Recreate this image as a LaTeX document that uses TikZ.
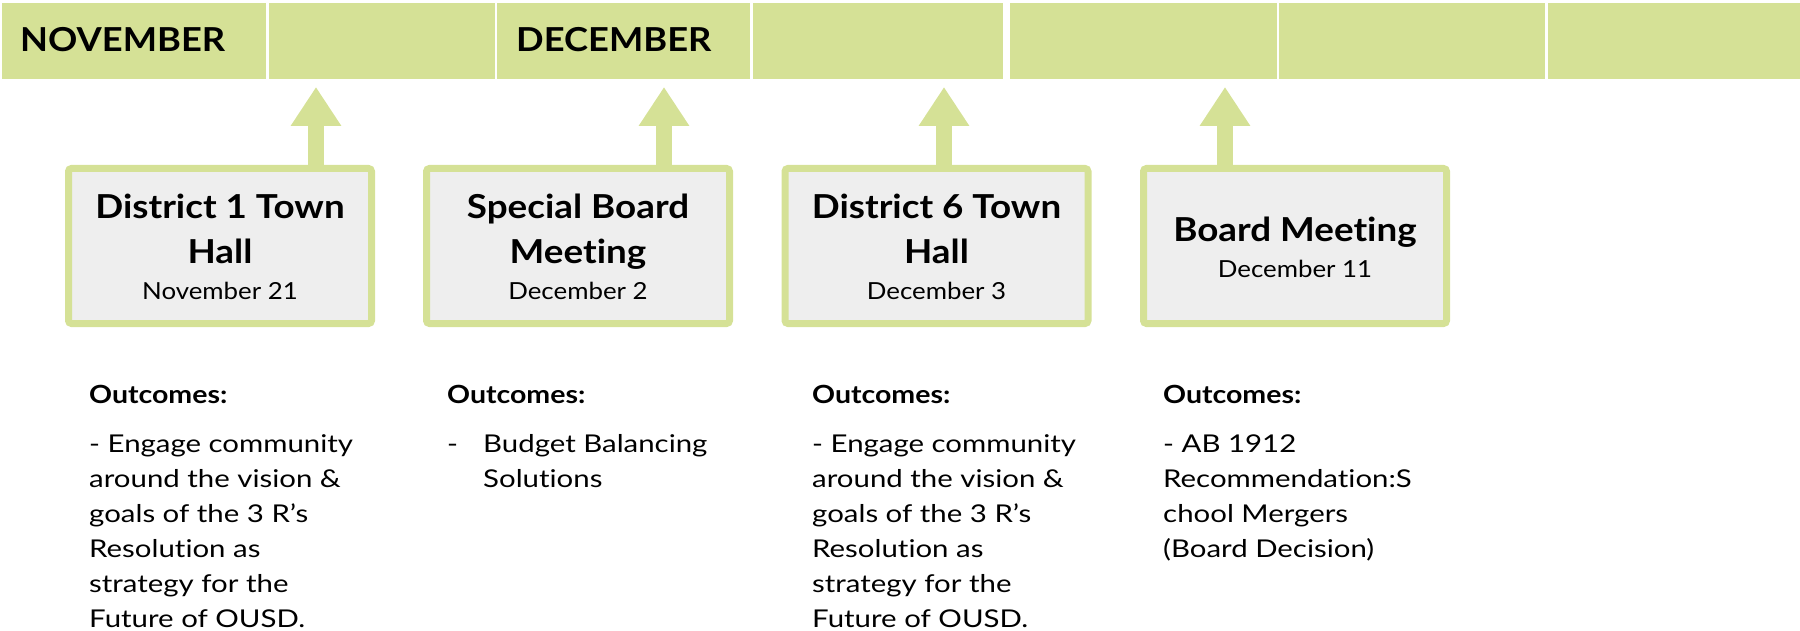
\documentclass[tikz,border=0pt]{standalone}
\usepackage{fontspec}
\setmainfont{Lato}[Ligatures=NoCommon]
\newfontfamily\monthf{Lato}[FakeStretch=1.1,Ligatures=NoCommon]
\newfontfamily\ttlf{Lato}[FakeStretch=1.115,Ligatures=NoCommon]
\newfontfamily\dtf{Lato}[FakeStretch=1.1,Ligatures=NoCommon]
\newfontfamily\outf{Lato}[FakeStretch=1.14,Ligatures=NoCommon]
\newfontfamily\bodyf{Lato}[FakeStretch=1.2,Ligatures=NoCommon]
\usetikzlibrary{arrows.meta}
\definecolor{bar}{HTML}{D5E196}
\definecolor{boxfill}{HTML}{EEEEEE}
\tikzset{
  cell/.style={fill=bar,anchor=north west,inner sep=0pt,outer sep=0pt,minimum height=76pt},
  month/.style={anchor=base west,inner sep=0pt,font=\monthf\fontsize{33}{33}\selectfont\bfseries},
  evbox/.style={draw=bar,fill=boxfill,line width=7pt,rounded corners=3pt,minimum width=303pt,minimum height=155pt,inner sep=0pt},
  ttl/.style={anchor=base,inner sep=0pt,font=\ttlf\fontsize{33}{33}\selectfont\bfseries},
  dt/.style={anchor=base,inner sep=0pt,font=\dtf\fontsize{23.5}{23.5}\selectfont},
  arr/.style={draw=bar,line width=16pt,-{Triangle[width=48pt,length=39pt]}},
  outc/.style={anchor=base west,inner sep=0pt,font=\outf\fontsize{25}{25}\selectfont\bfseries},
  body/.style={anchor=base west,inner sep=0pt,font=\bodyf\fontsize{24.5}{24.5}\selectfont},
}
\begin{document}
\begin{tikzpicture}[x=1pt,y=-1pt]
\useasboundingbox (0,0) rectangle (1800,631);
% top bar
\node[cell,minimum width=264pt] (c1) at (2,3) {};
\node[cell,minimum width=226pt] (c2) at (269,3) {};
\node[cell,minimum width=253pt] (c3) at (497,3) {};
\node[cell,minimum width=250pt] (c4) at (753,3) {};
\node[cell,minimum width=267pt] (c5) at (1010,3) {};
\node[cell,minimum width=266pt] (c6) at (1279,3) {};
\node[cell,minimum width=252pt] (c7) at (1548,3) {};
\node[month] (nov) at (20,52) {NOVEMBER};
\node[month] (dec) at (516,52) {DECEMBER};
% arrow tips
\coordinate (t1) at (316,87);
\coordinate (t2) at (664,87);
\coordinate (t3) at (944,87);
\coordinate (t4) at (1225,87);
% boxes
\node[evbox] (b1) at (220,246) {};
\node[evbox] (b2) at (578,246) {};
\node[evbox] (b3) at (936.5,246) {};
\node[evbox] (b4) at (1295,246) {};
\draw[arr] (t1 |- b1.north) -- (t1);
\draw[arr] (t2 |- b2.north) -- (t2);
\draw[arr] (t3 |- b3.north) -- (t3);
\draw[arr] (t4 |- b4.north) -- (t4);
% box texts
\node[ttl] (b1a) at (220,219) {District 1 Town};
\node[ttl] (b1b) at (220,264) {Hall};
\node[dt] (b1c) at (220,300) {November 21};
\node[ttl] (b2a) at (578,219) {Special Board};
\node[ttl] (b2b) at (578,264) {Meeting};
\node[dt] (b2c) at (578,300) {December 2};
\node[ttl] (b3a) at (936.5,219) {District 6 Town};
\node[ttl] (b3b) at (936.5,264) {Hall};
\node[dt] (b3c) at (936.5,300) {December 3};
\node[ttl] (b4a) at (1295,242) {Board Meeting};
\node[dt] (b4c) at (1295,277) {December 11};
% outcomes
\node[outc] (o1) at (89,403) {Outcomes:};
\node[outc] (o2) at (447,403) {Outcomes:};
\node[outc] (o3) at (812,403) {Outcomes:};
\node[outc] (o4) at (1163,403) {Outcomes:};
\foreach \t [count=\i] in {{- Engage community},{around the vision \&},{goals of the 3 R’s},{Resolution as},{strategy for the},{Future of OUSD.}}
  \node[body] (p1\i) at (89,{452+35*(\i-1)}) {\t};
\foreach \t [count=\i] in {{- Engage community},{around the vision \&},{goals of the 3 R’s},{Resolution as},{strategy for the},{Future of OUSD.}}
  \node[body] (p3\i) at (812,{452+35*(\i-1)}) {\t};
\node[body] (p2d) at (447,452) {-};
\node[body] (p21) at (483,452) {Budget Balancing};
\node[body] (p22) at (483,487) {Solutions};
\foreach \t [count=\i] in {{- AB 1912},{Recommendation:S},{chool Mergers},{(Board Decision)}}
  \node[body] (p4\i) at (1163,{452+35*(\i-1)}) {\t};
\end{tikzpicture}
\end{document}
